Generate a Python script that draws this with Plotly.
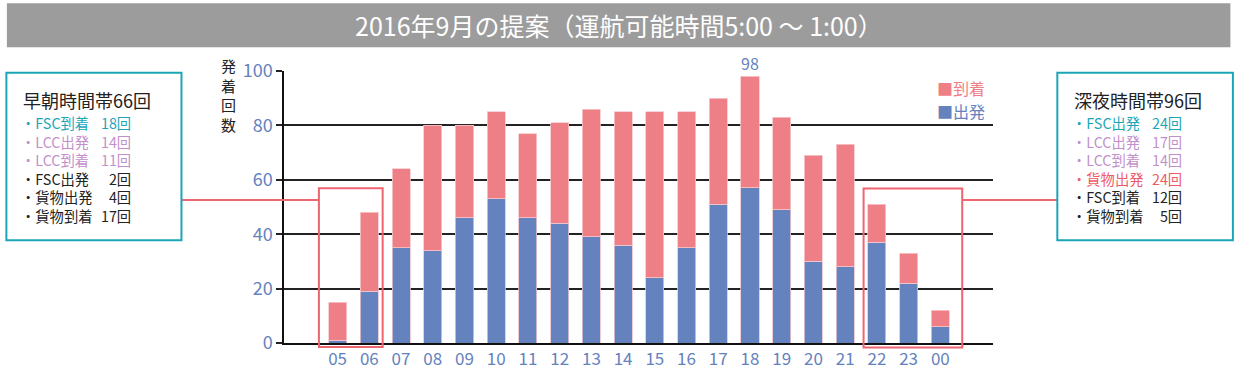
import plotly.graph_objects as go

# ---------------- data ----------------
hours = ["05", "06", "07", "08", "09", "10", "11", "12", "13", "14",
         "15", "16", "17", "18", "19", "20", "21", "22", "23", "00"]
departures = [1, 19, 35, 34, 46, 53, 46, 44, 39, 36, 24, 35, 51, 57, 49, 30, 28, 37, 22, 6]
arrivals = [14, 29, 29, 46, 34, 32, 31, 37, 47, 49, 61, 50, 39, 41, 34, 39, 45, 14, 11, 6]

title_text = "2016年9月の提案（運航可能時間5:00 ～ 1:00）"
y_title_chars = ["発", "着", "回", "数"]
y_ticks = [0, 20, 40, 60, 80, 100]

early_title = "早朝時間帯66回"
early_items = ["FSC到着", "LCC出発", "LCC到着", "FSC出発", "貨物出発", "貨物到着"]
early_counts = [18, 14, 11, 2, 4, 17]
late_title = "深夜時間帯96回"
late_items = ["FSC出発", "LCC出発", "LCC到着", "貨物出発", "FSC到着", "貨物到着"]
late_counts = [24, 17, 14, 24, 12, 5]

# ---------------- styles ----------------
W, H = 1240, 370
L, R, T, B = 284, 992.7, 70.7, 342.7
X_RANGE = [-1.69, 20.66]
BLUE = "#6482BE"
RED = "#EF7F86"
BOX_RED = "#EE6470"
TEAL = "#1BA6B8"
LAV = "#C28FCB"
DARK = "#222222"
FONT = "Noto Sans CJK JP"

early_colors = [TEAL, LAV, LAV, DARK, DARK, DARK]
late_colors = [TEAL, LAV, LAV, "#EF5A68", DARK, DARK]


def px(x):
    return (x - L) / (R - L)


def py(y):
    return (B - y) / (B - T)


def cat_px(i):
    # paper x of category position i (via axis range)
    return (i - X_RANGE[0]) / (X_RANGE[1] - X_RANGE[0])


fig = go.Figure()
fig.add_trace(go.Bar(x=hours, y=departures, name="出発", marker=dict(color=BLUE, line=dict(color="#E9C3D0", width=0.8)),
                     width=0.57, showlegend=False))
fig.add_trace(go.Bar(x=hours, y=arrivals, name="到着", marker=dict(color=RED, line=dict(color="#F7C9CD", width=0.8)),
                     width=0.57, showlegend=False))

shapes = []
annotations = []

# title bar
shapes.append(dict(type="rect", xref="paper", yref="paper", x0=px(7), x1=px(1230), y0=py(47), y1=py(3),
                   fillcolor="#9C9C9C", line=dict(width=0), layer="below"))
annotations.append(dict(xref="paper", yref="paper", x=px(618.5), y=py(25), text=title_text, showarrow=False,
                        font=dict(family=FONT, size=25, color="white"), xanchor="center", yanchor="middle"))

# y-axis title (vertical)
annotations.append(dict(xref="paper", yref="paper", x=px(228.5), y=py(95), text="<br>".join(y_title_chars),
                        showarrow=False, font=dict(family=FONT, size=15, color=DARK),
                        xanchor="center", yanchor="middle"))

# peak label
imax = max(range(len(hours)), key=lambda i: departures[i] + arrivals[i])
annotations.append(dict(xref="x", yref="y", x=imax, y=departures[imax] + arrivals[imax],
                        text=str(departures[imax] + arrivals[imax]),
                        showarrow=False, yshift=13, font=dict(family=FONT, size=16, color=BLUE),
                        xanchor="center", yanchor="middle"))

# legend (manual)
annotations.append(dict(xref="paper", yref="paper", x=px(935), y=py(88), text="■到着", showarrow=False,
                        font=dict(family=FONT, size=16, color=RED), xanchor="left", yanchor="middle"))
annotations.append(dict(xref="paper", yref="paper", x=px(935), y=py(111), text="■出発", showarrow=False,
                        font=dict(family=FONT, size=16, color=BLUE), xanchor="left", yanchor="middle"))

# highlight boxes around early / late hours
i05, i06 = hours.index("05"), hours.index("06")
i22, i00 = hours.index("22"), hours.index("00")
shapes.append(dict(type="rect", xref="paper", yref="paper", x0=cat_px(i05 - 0.59), x1=cat_px(i06 + 0.42),
                   y0=py(346.7), y1=py(188), line=dict(color=BOX_RED, width=2)))
shapes.append(dict(type="rect", xref="paper", yref="paper", x0=cat_px(i22 - 0.42), x1=cat_px(i00 + 0.69),
                   y0=py(347.3), y1=py(188.3), line=dict(color=BOX_RED, width=2)))
# connectors
shapes.append(dict(type="line", xref="paper", yref="paper", x0=px(182), x1=cat_px(i05 - 0.59),
                   y0=py(199.7), y1=py(199.7), line=dict(color=BOX_RED, width=2)))
shapes.append(dict(type="line", xref="paper", yref="paper", x0=cat_px(i00 + 0.69), x1=px(1057),
                   y0=py(199.7), y1=py(199.7), line=dict(color=BOX_RED, width=2)))

# callout boxes
shapes.append(dict(type="rect", xref="paper", yref="paper", x0=px(6.5), x1=px(181.5), y0=py(240), y1=py(72.5),
                   line=dict(color=TEAL, width=2), fillcolor="white"))
shapes.append(dict(type="rect", xref="paper", yref="paper", x0=px(1057), x1=px(1232.5), y0=py(240), y1=py(72.5),
                   line=dict(color=TEAL, width=2), fillcolor="white"))


def callout(x_left, x_num, title, items, counts, colors, title_y):
    annotations.append(dict(xref="paper", yref="paper", x=px(x_left), y=py(title_y), text=title, showarrow=False,
                            font=dict(family=FONT, size=18, color=DARK), xanchor="left", yanchor="middle",
                            borderpad=0))
    item_txt = "<br>".join(f"<span style='color:{col}'>・{it}</span>" for it, col in zip(items, colors))
    num_txt = "<br>".join(f"<span style='color:{col}'>{c}回</span>" for c, col in zip(counts, colors))
    y_mid = py(122 + 18.6 * (len(items) - 1) / 2)
    annotations.append(dict(xref="paper", yref="paper", x=px(x_left - 2), y=y_mid, text=item_txt, showarrow=False,
                            align="left", font=dict(family=FONT, size=14.3, color=DARK),
                            xanchor="left", yanchor="middle", borderpad=0))
    annotations.append(dict(xref="paper", yref="paper", x=px(x_num), y=y_mid, text=num_txt, showarrow=False,
                            align="right", font=dict(family=FONT, size=14.3, color=DARK),
                            xanchor="right", yanchor="middle", borderpad=0))


callout(22, 132.5, early_title, early_items, early_counts, early_colors, 99.5)
callout(1073, 1183, late_title, late_items, late_counts, late_colors, 99.5)

fig.update_layout(
    width=W, height=H,
    margin=dict(l=L, r=W - R, t=T, b=H - B, pad=0, autoexpand=False),
    barmode="stack",
    plot_bgcolor="white", paper_bgcolor="white",
    font=dict(family=FONT),
    shapes=shapes, annotations=annotations,
    xaxis=dict(type="category", range=X_RANGE, showgrid=False, showline=True, linecolor="#111", linewidth=1.5,
               ticks="", tickfont=dict(family=FONT, size=17, color=BLUE), fixedrange=True, automargin=False),
    yaxis=dict(range=[0, 100], tickvals=y_ticks, showgrid=True, gridcolor=DARK, gridwidth=1.5,
               showline=True, linecolor="#111", linewidth=1.5, ticks="outside", ticklen=6, tickcolor=DARK,
               tickwidth=1.5, tickfont=dict(family=FONT, size=18, color=BLUE), zeroline=False, fixedrange=True,
               automargin=False),
    showlegend=False,
)

fig.write_html("out.html", post_script="document.body.style.margin='0px';",
               config={"displayModeBar": False})
